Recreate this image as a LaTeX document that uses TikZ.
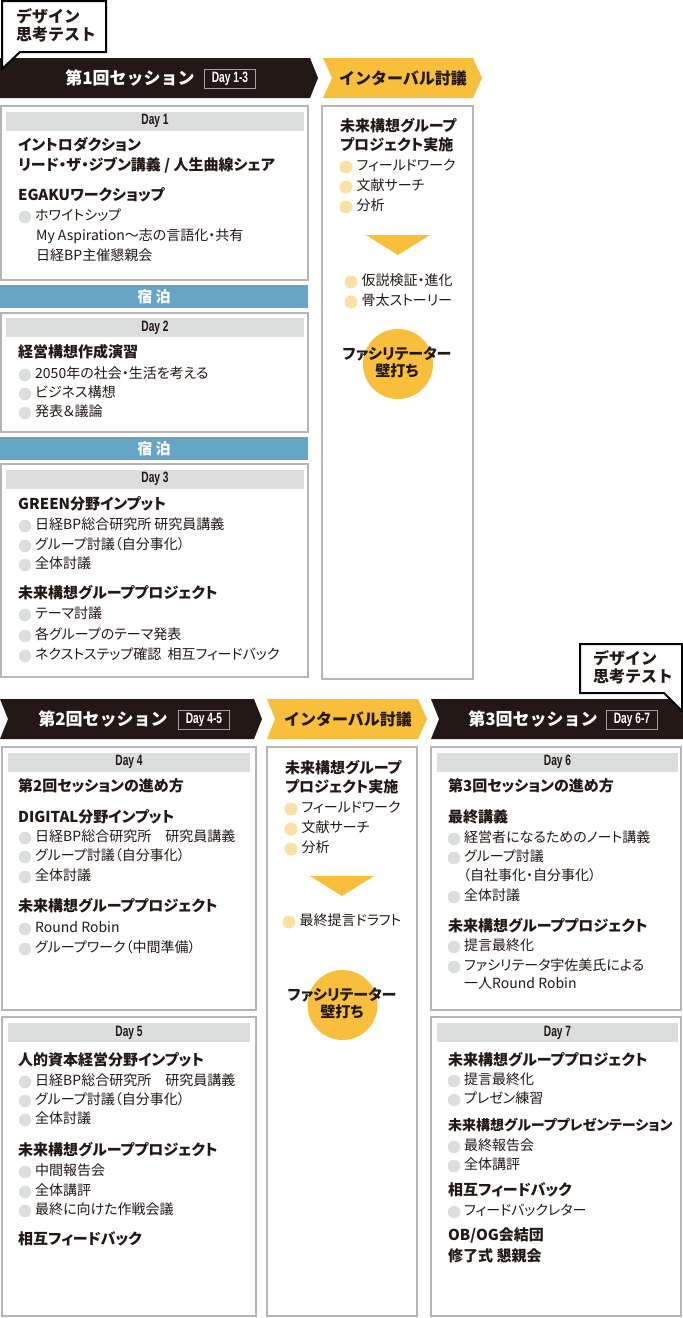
\documentclass[tikz,border=0pt]{standalone}
\usepackage{fontspec}
\setmainfont{Noto Sans CJK JP}[RawFeature=+palt]
\newfontfamily\jpwide{Noto Sans CJK JP}
\newfontfamily\dayf[FakeStretch=0.68]{Liberation Sans}
\definecolor{dark}{HTML}{231815}
\definecolor{yel}{HTML}{F7BF3C}
\definecolor{lyel}{HTML}{F9E2A3}
\definecolor{stayblue}{HTML}{66A5C6}
\definecolor{hdrgray}{HTML}{DCDDDD}
\definecolor{boxgray}{HTML}{B5B5B6}
\definecolor{bulgray}{HTML}{DCDDDD}
\definecolor{dboxline}{HTML}{9FA0A0}
\newcommand\gitem[4]{\node[gbul] (#1c) at (#2,#3) {}; \node[txt] (#1) at (#2+10,#3) {#4};}
\newcommand\yitem[4]{\node[ybul] (#1c) at (#2,#3) {}; \node[txt] (#1) at (#2+10.5,#3) {#4};}
\tikzset{
  box/.style={draw=boxgray, line width=1.2pt, fill=white},
  txt/.style={anchor=west, inner sep=0pt, text height=0.88em, text depth=0.12em, font=\fontsize{14}{15}\selectfont, text=dark},
  ttl/.style={txt, font=\fontsize{15}{17}\selectfont\bfseries},
  gbul/.style={circle, fill=bulgray, minimum size=12.5pt, inner sep=0pt},
  ybul/.style={circle, fill=lyel, minimum size=13pt, inner sep=0pt},
  dayhdr/.style={fill=hdrgray, minimum height=19pt, inner sep=0pt, font=\dayf\bfseries\fontsize{15}{15}\selectfont, text=dark},
  stay/.style={fill=stayblue, minimum width=308pt, minimum height=23pt, inner sep=0pt, text=white, font=\jpwide\bfseries\fontsize{15}{15}\selectfont},
  bantxt/.style={inner sep=0pt, text=white, font=\jpwide\bfseries\fontsize{17}{17}\selectfont},
  inttxt/.style={inner sep=0pt, text=dark, font=\jpwide\bfseries\fontsize{16}{16}\selectfont},
  daybox/.style={draw=dboxline, line width=0.8pt, minimum width=51pt, minimum height=19pt, inner sep=0pt, text=white, font=\dayf\bfseries\fontsize{15}{15}\selectfont},
  callout/.style={draw=black, line width=2pt, fill=white, line join=miter},
  calltxt/.style={anchor=west, inner sep=0pt, text height=0.88em, text depth=0.12em, text=dark, font=\jpwide\bfseries\fontsize{16}{16}\selectfont},
  facil/.style={circle, fill=yel, minimum size=70pt, inner sep=0pt},
  factxt/.style={inner sep=0pt, text height=0.88em, text depth=0.12em, text=dark, font=\fontsize{15}{16}\selectfont\bfseries},
}
\begin{document}
\begin{tikzpicture}[x=1pt,y=-1pt]
\useasboundingbox (0,0) rectangle (683,1318);
% ---------- top banners ----------
\fill[dark] (0,58) -- (310,58) -- (318,78) -- (310,98) -- (0,98) -- cycle;
\fill[yel] (323,58) -- (473,58) -- (482,78) -- (473,98) -- (323,98) -- (332,78) -- cycle;
\node[bantxt] (t1) at (130,78) {第1回セッション};
\node[daybox] (db1) at (230,79) {Day 1-3};
\node[inttxt] (it1) at (403,78) {インターバル討議};
% callout 1
\draw[callout] (2,1) -- (106,1) -- (106,52) -- (20,52) -- (2,69) -- cycle;
\node[calltxt] (cl1a) at (16,19) {デザイン};
\node[calltxt] (cl1b) at (16,37) {思考テスト};
% ---------- Day 1 ----------
\draw[box] (1,106) rectangle (308,280);
\node[dayhdr, minimum width=298pt] (h1) at (155,121) {Day 1};
\node[ttl] (d1a) at (18,147) {イントロダクション};
\node[ttl] (d1b) at (18,167) {リード・ザ・ジブン講義 / 人生曲線シェア};
\node[ttl] (d1c) at (18,197) {EGAKUワークショップ};
\gitem{d1d}{25}{217}{ホワイトシップ}
\node[txt] (d1e) at (36,237) {My Aspiration～志の言語化・共有};
\node[txt] (d1f) at (36,257) {日経BP主催懇親会};
\node[stay] (s1) at (154,296.5) {宿 泊};
% ---------- Day 2 ----------
\draw[box] (1,313) rectangle (308,432);
\node[dayhdr, minimum width=298pt] (h2) at (155,327.5) {Day 2};
\node[ttl] (d2a) at (18,354) {経営構想作成演習};
\gitem{d2b}{25}{375}{2050年の社会・生活を考える}
\gitem{d2c}{25}{394}{ビジネス構想}
\gitem{d2d}{25}{413}{発表＆議論}
\node[stay] (s2) at (154,448.5) {宿 泊};
% ---------- Day 3 ----------
\draw[box] (1,464) rectangle (308,677);
\node[dayhdr, minimum width=298pt] (h3) at (155,479) {Day 3};
\node[ttl] (d3a) at (18,506) {GREEN分野インプット};
\gitem{d3b}{25}{526}{日経BP総合研究所 研究員講義}
\gitem{d3c}{25}{546}{グループ討議（自分事化）}
\gitem{d3d}{25}{565}{全体討議}
\node[ttl] (d3e) at (18,595) {未来構想グループプロジェクト};
\gitem{d3f}{25}{615}{テーマ討議}
\gitem{d3g}{25}{636}{各グループのテーマ発表}
\gitem{d3h}{25}{656}{ネクストステップ確認\ \ 相互フィードバック}
% ---------- Interval 1 ----------
\draw[box] (322,106) rectangle (473,679);
\node[ttl] (i1a) at (340,128) {未来構想グループ};
\node[ttl] (i1b) at (340,147) {プロジェクト実施};
\yitem{i1c}{346}{167}{フィールドワーク}
\yitem{i1d}{346}{187}{文献サーチ}
\yitem{i1e}{346}{207}{分析}
\fill[yel] (366,235) -- (430,235) -- (398,255) -- cycle;
\yitem{i1f}{351}{282}{仮説検証・進化}
\yitem{i1g}{351}{302}{骨太ストーリー}
\node[facil] (f1) at (398,364) {};
\node[factxt] (f1a) at (397,356) {ファシリテーター};
\node[factxt] (f1b) at (397,373) {壁打ち};
% ---------- bottom banners ----------
\fill[dark] (0,699) -- (254,699) -- (262,719) -- (254,739) -- (0,739) -- (8,719) -- cycle;
\fill[yel] (267,699) -- (418,699) -- (427,719) -- (418,739) -- (267,739) -- (275,719) -- cycle;
\fill[dark] (431,699) -- (683,699) -- (683,739) -- (431,739) -- (439,719) -- cycle;
\node[bantxt] (t2) at (103,719) {第2回セッション};
\node[daybox] (db2) at (204,720) {Day 4-5};
\node[inttxt] (it2) at (348,719) {インターバル討議};
\node[bantxt] (t3) at (533,719) {第3回セッション};
\node[daybox] (db3) at (632,720) {Day 6-7};
% callout 2
\draw[callout] (580,644) -- (682,644) -- (682,711) -- (664,693) -- (580,693) -- cycle;
\node[calltxt] (cl2a) at (593,661) {デザイン};
\node[calltxt] (cl2b) at (593,679) {思考テスト};
% ---------- Day 4 ----------
\draw[box] (2,747) rectangle (256,1010);
\node[dayhdr, minimum width=242pt] (h4) at (129,762) {Day 4};
\node[ttl] (d4a) at (18,788) {第2回セッションの進め方};
\node[ttl] (d4b) at (18,819) {DIGITAL分野インプット};
\gitem{d4c}{25}{838}{日経BP総合研究所\quad 研究員講義}
\gitem{d4d}{25}{857}{グループ討議（自分事化）}
\gitem{d4e}{25}{877}{全体討議}
\node[ttl] (d4f) at (18,908) {未来構想グループプロジェクト};
\gitem{d4g}{25}{929}{Round Robin}
\gitem{d4h}{25}{949}{グループワーク（中間準備）}
% ---------- Day 5 ----------
\draw[box] (2,1017) rectangle (256,1316);
\node[dayhdr, minimum width=242pt] (h5) at (129,1032.5) {Day 5};
\node[ttl] (d5a) at (18,1062) {人的資本経営分野インプット};
\gitem{d5b}{25}{1082}{日経BP総合研究所\quad 研究員講義}
\gitem{d5c}{25}{1101}{グループ討議（自分事化）}
\gitem{d5d}{25}{1120}{全体討議}
\node[ttl] (d5e) at (18,1152) {未来構想グループプロジェクト};
\gitem{d5f}{25}{1172}{中間報告会}
\gitem{d5g}{25}{1192}{全体講評}
\gitem{d5h}{25}{1211}{最終に向けた作戦会議}
\node[ttl] (d5i) at (18,1241) {相互フィードバック};
% ---------- Interval 2 ----------
\draw[box] (267,747) rectangle (417,1316);
\node[ttl] (i2a) at (285,770) {未来構想グループ};
\node[ttl] (i2b) at (285,789) {プロジェクト実施};
\yitem{i2c}{291}{809}{フィールドワーク}
\yitem{i2d}{291}{829}{文献サーチ}
\yitem{i2e}{291}{849}{分析}
\fill[yel] (310,876) -- (374,876) -- (342,896) -- cycle;
\yitem{i2f}{289}{922}{最終提言ドラフト}
\node[facil] (f2) at (342.5,1005) {};
\node[factxt] (f2a) at (342,997) {ファシリテーター};
\node[factxt] (f2b) at (342,1014) {壁打ち};
% ---------- Day 6 ----------
\draw[box] (431,747) rectangle (681,1010);
\node[dayhdr, minimum width=241pt] (h6) at (557.5,762) {Day 6};
\node[ttl] (d6a) at (448,788) {第3回セッションの進め方};
\node[ttl] (d6b) at (448,819) {最終講義};
\gitem{d6c}{454}{839}{経営者になるためのノート講義}
\gitem{d6d}{454}{858}{グループ討議}
\node[txt] (d6e) at (463,877) {（自社事化・自分事化）};
\gitem{d6f}{454}{897}{全体討議}
\node[ttl] (d6g) at (448,928) {未来構想グループプロジェクト};
\gitem{d6h}{454}{947}{提言最終化}
\gitem{d6i}{454}{967}{ファシリテータ宇佐美氏による}
\node[txt] (d6j) at (464,985) {一人Round Robin};
% ---------- Day 7 ----------
\draw[box] (431,1017) rectangle (681,1316);
\node[dayhdr, minimum width=241pt] (h7) at (557.5,1032.5) {Day 7};
\node[ttl] (d7a) at (448,1062) {未来構想グループプロジェクト};
\gitem{d7b}{454}{1081}{提言最終化}
\gitem{d7c}{454}{1100}{プレゼン練習}
\node[ttl, font=\fontsize{14}{16}\selectfont\bfseries] (d7d) at (448,1127) {未来構想グループプレゼンテーション};
\gitem{d7e}{454}{1147}{最終報告会}
\gitem{d7f}{454}{1166}{全体講評}
\node[ttl] (d7g) at (448,1192) {相互フィードバック};
\gitem{d7h}{454}{1212}{フィードバックレター}
\node[ttl] (d7i) at (448,1237) {OB/OG会結団};
\node[ttl] (d7j) at (448,1258) {修了式 懇親会};
\end{tikzpicture}
\end{document}
